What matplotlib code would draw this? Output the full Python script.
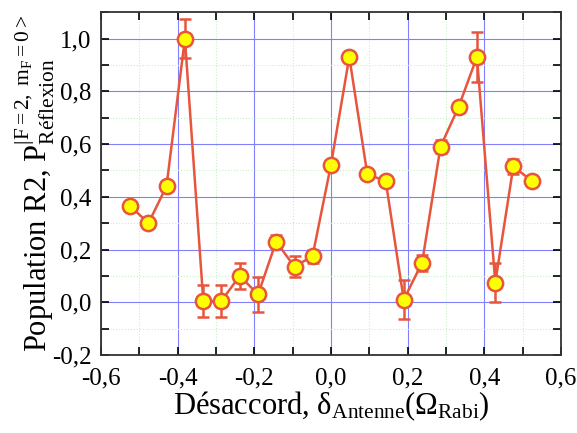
import matplotlib
matplotlib.use("Agg")
import matplotlib.pyplot as plt
from matplotlib.ticker import MultipleLocator, FuncFormatter
import numpy as np

# Donnees
desaccord = [-0.524, -0.476, -0.429, -0.381, -0.333, -0.286, -0.238, -0.190,
             -0.143, -0.095, -0.048, 0.0, 0.048, 0.095, 0.143, 0.190, 0.238,
             0.286, 0.333, 0.381, 0.429, 0.476, 0.524]
population = [0.365, 0.30, 0.44, 1.00, 0.005, 0.005, 0.10, 0.03, 0.23, 0.135,
              0.175, 0.52, 0.93, 0.485, 0.46, 0.01, 0.15, 0.59, 0.74, 0.93,
              0.075, 0.515, 0.46]
erreur = [0.01, 0.006, 0.01, 0.075, 0.06, 0.06, 0.05, 0.065, 0.025, 0.04,
          0.025, 0.01, 0.015, 0.015, 0.015, 0.075, 0.03, 0.025, 0.02, 0.095,
          0.075, 0.03, 0.015]

plt.rcParams['font.family'] = ['Liberation Serif', 'DejaVu Serif']
plt.rcParams['mathtext.fontset'] = 'custom'
plt.rcParams['mathtext.rm'] = 'Liberation Serif'
plt.rcParams['mathtext.it'] = 'Liberation Serif:italic'

rouge = '#e8553d'

fig = plt.figure(figsize=(5.77, 4.33), dpi=100)
ax = fig.add_axes([0.175, 0.180, 0.797, 0.792])

ax.errorbar(desaccord, population, yerr=erreur, color=rouge, lw=1.8,
            marker='o', ms=11, mfc='#ffff00', mec=rouge, mew=1.8,
            ecolor=rouge, elinewidth=1.8, capsize=4, capthick=1.8, zorder=3)

ax.set_xlim(-0.6, 0.6)
ax.set_ylim(-0.2, 1.1)
ax.xaxis.set_major_locator(MultipleLocator(0.2))
ax.xaxis.set_minor_locator(MultipleLocator(0.1))
ax.yaxis.set_major_locator(MultipleLocator(0.2))
ax.yaxis.set_minor_locator(MultipleLocator(0.1))

virgule = FuncFormatter(lambda v, p: f"{v:.1f}".replace('.', ','))
ax.xaxis.set_major_formatter(virgule)
ax.yaxis.set_major_formatter(virgule)

ax.grid(which='major', color='#8080ff', lw=0.8)
ax.grid(which='minor', color='#c8f0c8', lw=0.8, ls=':')
ax.set_axisbelow(True)

ax.tick_params(which='both', direction='in', top=True, right=True,
               labelsize=18, width=1.2)
ax.tick_params(which='major', length=6)
ax.tick_params(which='minor', length=6)
ax.tick_params(axis='x', pad=9)
ax.tick_params(axis='y', pad=7)
for s in ax.spines.values():
    s.set_linewidth(1.3)
    s.set_color('#333333')

ax.set_xlabel("Désaccord, δ$_{\\mathrm{Antenne}}$(Ω$_{\\mathrm{Rabi}}$)",
              fontsize=22, labelpad=0)
ax.set_ylabel(r"Population R2, P$^{\mathrm{|F=2,\ m_F=0>}}_{\mathrm{Réflexion}}$",
              fontsize=22, labelpad=-4)

fig.savefig("out.png", dpi=100)
